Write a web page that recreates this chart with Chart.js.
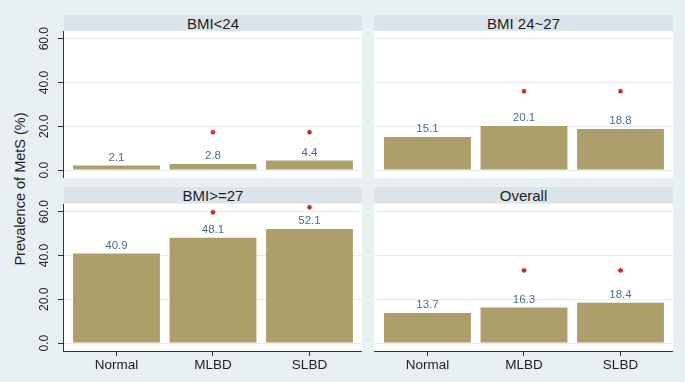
<!DOCTYPE html>
<html>
<head>
<meta charset="utf-8">
<script src="https://cdn.jsdelivr.net/npm/chart.js@4"></script>
<style>
  body { margin: 0; background: #e9f0f3; font-family: "Liberation Sans", Arial, sans-serif; }
  #wrap { position: relative; width: 685px; height: 382px; overflow: hidden; }
  canvas { position: absolute; }
  .head {
    position: absolute; height: 16px; line-height: 17px; background: #dae4ea;
    text-align: center; font-size: 15px; color: #1e1e1e;
  }
  #ytitle {
    position: absolute; left: -90px; top: 180px; width: 220px; height: 18px;
    line-height: 18px; text-align: center; font-size: 14.5px; color: #1e1e1e;
    transform: rotate(-90deg);
  }
</style>
</head>
<body>
<div id="wrap">
  <div class="head" style="left:64px; top:15px; width:298px;" id="h0"></div>
  <div class="head" style="left:374px; top:15px; width:299px;" id="h1"></div>
  <div class="head" style="left:64px; top:187px; width:298px;" id="h2"></div>
  <div class="head" style="left:374px; top:187px; width:299px;" id="h3"></div>
  <div id="ytitle">Prevalence of MetS (%)</div>
  <canvas id="c0" width="338" height="157" style="left:24px; top:21px;"></canvas>
  <canvas id="c1" width="299" height="157" style="left:374px; top:21px;"></canvas>
  <canvas id="c2" width="338" height="185" style="left:24px; top:194px;"></canvas>
  <canvas id="c3" width="299" height="185" style="left:374px; top:194px;"></canvas>
</div>
<script>
const categories = ["Normal", "MLBD", "SLBD"];
const panelTitles = ["BMI<24", "BMI 24~27", "BMI>=27", "Overall"];

// prevalence values
const bmiLow = [2.1, 2.8, 4.4];
const bmiMid = [15.1, 20.1, 18.8];
const bmiHigh = [40.9, 48.1, 52.1];
const overall = [13.7, 16.3, 18.4];

// significance markers (*) height
const starLow = [null, 17.3, 17.3];
const starMid = [null, 36.0, 36.0];
const starHigh = [null, 59.7, 62.0];
const starOverall = [null, 33.2, 33.2];

const yTicks = [0, 20, 40, 60];

const barColor = "#ad9f6b";
const labelColor = "#4b6b8b";
const starColor = "#c0262b";
const axisColor = "#333333";

// white plot region
const plotBg = {
    id: "plotBg",
    beforeDraw(chart) {
        const a = chart.chartArea;
        chart.ctx.save();
        chart.ctx.fillStyle = "#ffffff";
        chart.ctx.fillRect(a.left, a.top, a.right - a.left, a.bottom - a.top);
        chart.ctx.restore();
    }
};

// numbers above bars
const barLabels = {
    id: "barLabels",
    afterDatasetsDraw(chart) {
        const ctx = chart.ctx;
        const ds = chart.data.datasets[0];
        ctx.save();
        ctx.font = "11.5px 'Liberation Sans', Arial, sans-serif";
        ctx.fillStyle = labelColor;
        ctx.textAlign = "center";
        ctx.textBaseline = "middle";
        chart.getDatasetMeta(0).data.forEach((bar, i) => {
            ctx.fillText(ds.data[i].y.toFixed(1), bar.x, bar.y - 8);
        });
        ctx.restore();
    }
};

// vertical y tick labels (left panels)
const yLabels = {
    id: "yLabels",
    afterDraw(chart) {
        if (!chart.options.showYLabels) return;
        const ctx = chart.ctx;
        const scale = chart.scales.y;
        ctx.save();
        ctx.font = "12px 'Liberation Sans', Arial, sans-serif";
        ctx.fillStyle = "#1e1e1e";
        ctx.textAlign = "center";
        ctx.textBaseline = "middle";
        scale.ticks.forEach(t => {
            const y = scale.getPixelForValue(t.value);
            ctx.save();
            ctx.translate(21, y);
            ctx.rotate(-Math.PI / 2);
            ctx.fillText(t.value.toFixed(1), 0, 0);
            ctx.restore();
        });
        ctx.restore();
    }
};

function makePanel(id, title, values, stars, left, bottom) {
    document.getElementById("h" + id).textContent = title;

    const starPoints = [];
    stars.forEach((s, i) => { if (s !== null) starPoints.push({ x: i, y: s }); });

    return new Chart(document.getElementById("c" + id), {
        type: "bar",
        data: {
            datasets: [
                {
                    data: values.map((v, i) => ({ x: i, y: v })),
                    backgroundColor: barColor,
                    barPercentage: 0.9,
                    categoryPercentage: 1
                },
                {
                    type: "scatter",
                    data: starPoints,
                    pointStyle: "star",
                    radius: 2.6,
                    borderColor: starColor,
                    borderWidth: 1.1,
                    backgroundColor: starColor
                }
            ]
        },
        options: {
            responsive: false,
            animation: false,
            devicePixelRatio: 1,
            showYLabels: left,
            layout: { padding: { top: 10, left: 0, right: 0, bottom: 0 }, autoPadding: false },
            plugins: { legend: { display: false }, tooltip: { enabled: false } },
            scales: {
                x: {
                    type: "linear",
                    min: -0.554,
                    max: 2.544,
                    offset: false,
                    display: bottom,
                    afterBuildTicks: s => { s.ticks = categories.map((c, i) => ({ value: i })); },
                    afterFit: s => { s.height = bottom ? 28 : 0; },
                    grid: { offset: false, drawOnChartArea: false, tickLength: 5, tickColor: axisColor },
                    border: { color: axisColor, width: 1 },
                    ticks: {
                        callback: v => categories[v],
                        color: "#1e1e1e",
                        padding: 1,
                        maxRotation: 0,
                        font: { size: 13.5, family: "'Liberation Sans', Arial, sans-serif" }
                    }
                },
                y: {
                    min: -3.6,
                    max: 63.5,
                    afterBuildTicks: s => { s.ticks = yTicks.map(v => ({ value: v })); },
                    afterFit: s => { s.width = left ? 39 : 0; },
                    grid: {
                        color: "#e8ebed",
                        drawTicks: left,
                        tickLength: 5,
                        tickColor: axisColor
                    },
                    border: { display: left, color: axisColor, width: 1 },
                    ticks: { display: false }
                }
            }
        },
        plugins: [plotBg, barLabels, yLabels]
    });
}

makePanel(0, panelTitles[0], bmiLow, starLow, true, false);
makePanel(1, panelTitles[1], bmiMid, starMid, false, false);
makePanel(2, panelTitles[2], bmiHigh, starHigh, true, true);
makePanel(3, panelTitles[3], overall, starOverall, false, true);
</script>
</body>
</html>
